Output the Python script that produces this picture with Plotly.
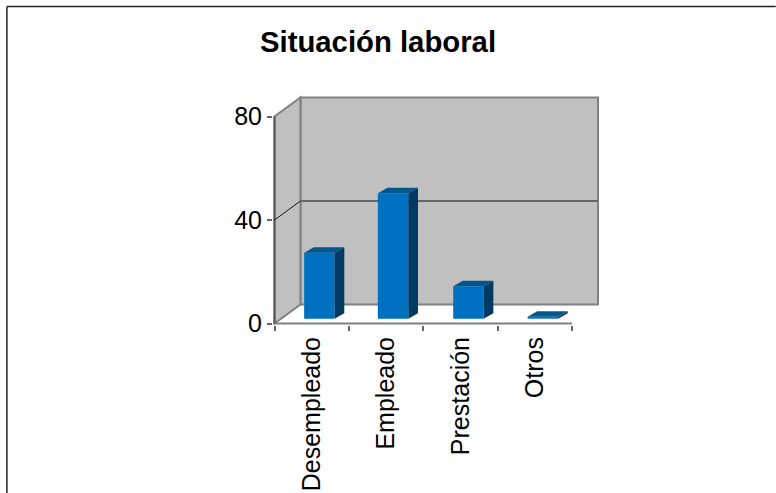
import plotly.graph_objects as go

categories = ["Desempleado", "Empleado", "Prestación", "Otros"]
values = [25.5, 48.5, 12.5, 0.8]
y_ticks = [0, 40, 80]
title = "Situación laboral"

# figure geometry (pixels)
W, H = 776, 493
L, R_FRONT, BOTTOM = 274, 572, 323.5
PX_X = (R_FRONT - L) / len(categories)
PX_Y = (323.5 - 116.5) / 80
DEPTH_X, DEPTH_Y = 26 / PX_X, 19 / PX_Y
PL, PR, PT, PB = 272.5, 600, 95, 325
n = len(categories)
vtop = y_ticks[-1]

FONT = "Liberation Sans"
WALL = "#C0C0C0"
EDGE = "#808080"
FRONT, TOP_C, SIDE = "#0070C0", "#00568F", "#003A63"

def path(pts):
    return "M " + " L ".join(f"{x},{y}" for x, y in pts) + " Z"

def px(p):
    return (p - PL) / (PR - PL)

def py(p):
    return (PB - p) / (PB - PT)

shapes = [
    dict(type="path", xref="x", yref="y", layer="below", fillcolor=WALL,
         line=dict(color=EDGE, width=2),
         path=path([(DEPTH_X, DEPTH_Y), (DEPTH_X + n, DEPTH_Y),
                    (DEPTH_X + n, DEPTH_Y + vtop), (DEPTH_X, DEPTH_Y + vtop)])),
    dict(type="path", xref="x", yref="y", layer="below", fillcolor=WALL,
         line=dict(color=EDGE, width=2),
         path=path([(0, 0), (DEPTH_X, DEPTH_Y), (DEPTH_X, DEPTH_Y + vtop), (0, vtop)])),
    dict(type="line", xref="x", yref="y", layer="below", x0=0, y0=0, x1=n, y1=0,
         line=dict(color=EDGE, width=2)),
    dict(type="line", xref="x", yref="y", layer="below", x0=0, y0=0, x1=0, y1=vtop,
         line=dict(color="#555555", width=2)),
    dict(type="line", xref="x", yref="y", layer="below", x0=DEPTH_X, y0=DEPTH_Y + 40,
         x1=DEPTH_X + n, y1=DEPTH_Y + 40, line=dict(color="#666666", width=2)),
    dict(type="line", xref="x", yref="y", layer="below", x0=0, y0=40,
         x1=DEPTH_X, y1=DEPTH_Y + 40, line=dict(color="#111111", width=1)),
    # page border
    dict(type="line", xref="paper", yref="paper", x0=px(6), x1=px(W), y0=py(6.5), y1=py(6.5),
         line=dict(color="#222222", width=1.5)),
    dict(type="line", xref="paper", yref="paper", x0=px(6), x1=px(6), y0=py(6.5), y1=py(H),
         line=dict(color="#222222", width=1.5)),
]

BAR_W = 30.5 / PX_X
SHIFTS = [7.7 / PX_X, 7 / PX_X, 8 / PX_X, 8 / PX_X]
BASE = 4.8 / PX_Y
SIDE_X, SIDE_Y = 9.7 / PX_X, 5.5 / PX_Y

centers = [i + 0.5 for i in range(n)]
bar_x = [c + s for c, s in zip(centers, SHIFTS)]

fig = go.Figure()
fig.add_trace(go.Bar(x=bar_x, y=values, base=[BASE] * n, width=[BAR_W] * n,
                     marker=dict(color=FRONT, line=dict(width=0)), showlegend=False))

for bx, v in zip(bar_x, values):
    x0, x1 = bx - BAR_W / 2, bx + BAR_W / 2
    t = BASE + v
    fig.add_trace(go.Scatter(
        x=[x1, x1 + SIDE_X, x1 + SIDE_X, x1, x1], y=[BASE, BASE + SIDE_Y, t + SIDE_Y, t, BASE],
        mode="lines", fill="toself", fillcolor=SIDE, line=dict(width=0), showlegend=False))
    fig.add_trace(go.Scatter(
        x=[x0, x1, x1 + SIDE_X, x0 + SIDE_X, x0], y=[t, t, t + SIDE_Y, t + SIDE_Y, t],
        mode="lines", fill="toself", fillcolor=TOP_C, line=dict(width=0), showlegend=False))

fig.update_layout(
    width=W, height=H, autosize=False,
    margin=dict(l=PL, r=W - PR, t=PT, b=H - PB, pad=0),
    paper_bgcolor="white", plot_bgcolor="rgba(0,0,0,0)",
    showlegend=False, shapes=shapes,
    font=dict(family=FONT, color="black"),
    title=dict(text=f"<b>{title}</b>", x=378 / W, xref="container", xanchor="center",
               y=1 - 42 / H, yref="container", yanchor="middle",
               font=dict(family=FONT, size=29.3, color="black")),
    xaxis=dict(range=[(PL - L) / PX_X, (PR - L) / PX_X], showgrid=False, zeroline=False, showline=False,
               tickmode="array", tickvals=centers, ticktext=categories, tickangle=-90,
               ticks="outside", ticklen=1, tickcolor="rgba(0,0,0,0)",
               tickfont=dict(size=25, family=FONT), automargin=False,
               minor=dict(tickmode="array", tickvals=list(range(n + 1)), ticks="outside",
                          ticklen=5, tickwidth=1.5, tickcolor="#666666", showgrid=False)),
    yaxis=dict(range=[(BOTTOM - PB) / PX_Y, (BOTTOM - PT) / PX_Y], showgrid=False, zeroline=False, showline=False,
               tickmode="array", tickvals=y_ticks, ticks="outside", ticklen=5, tickwidth=1.5,
               tickcolor="#666666", tickfont=dict(size=25, family=FONT), automargin=False),
)

fig.write_html("out.html", config=dict(displayModeBar=False),
               post_script="document.body.style.margin='0';document.body.style.overflow='hidden';")
